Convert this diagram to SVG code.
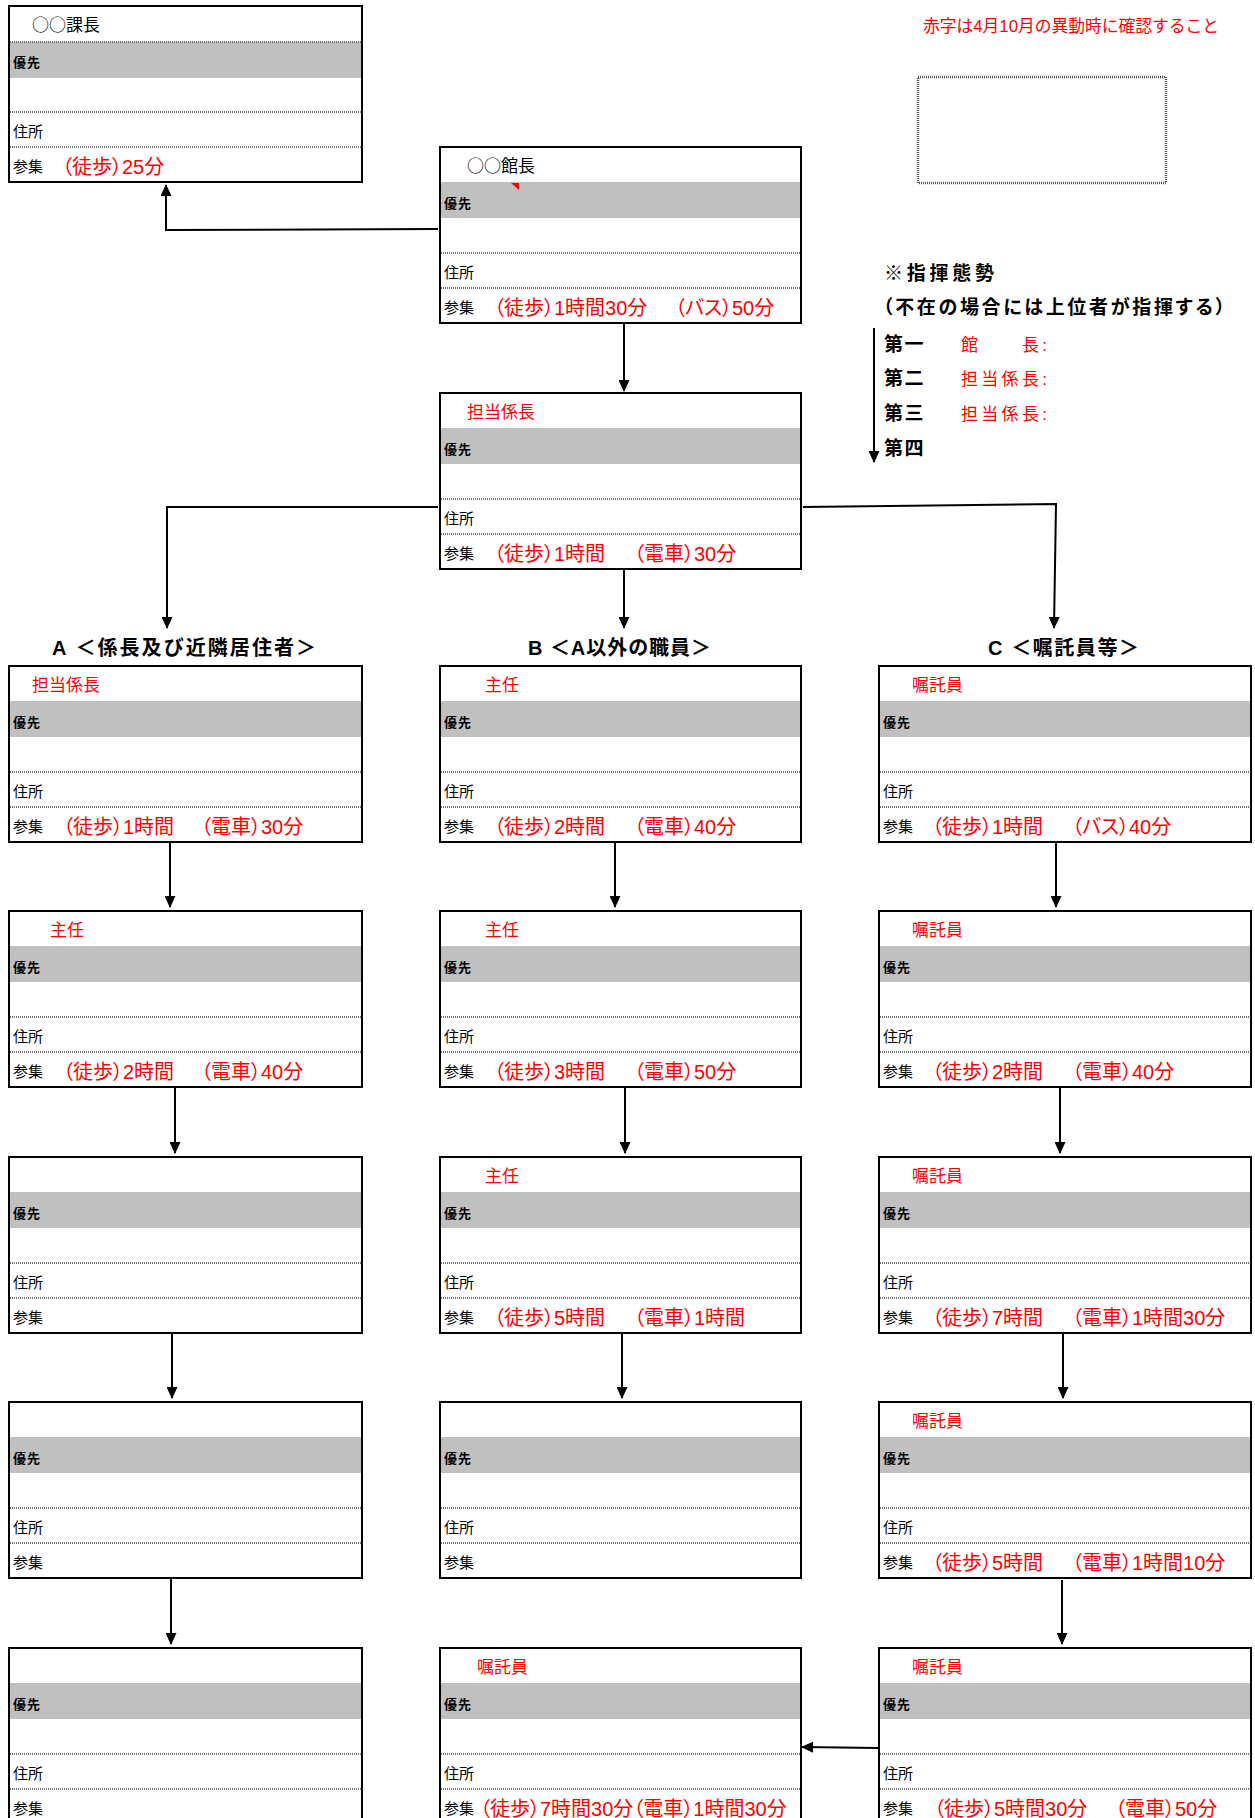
<svg xmlns="http://www.w3.org/2000/svg" width="1255" height="1818" viewBox="0 0 1255 1818">
<style>
text{font-family:"Liberation Sans","Noto Sans CJK JP",sans-serif;fill:#000}
.jp{font-family:"Noto Sans CJK JP",sans-serif}
.box{fill:#fff;stroke:#000;stroke-width:2}
.band{fill:#c0c0c0}
.dot{stroke:#444;stroke-width:1.5;stroke-dasharray:1 1}
.ttl{font-size:17px}
.pri{font-size:13px;font-weight:bold;letter-spacing:1px}
.lbl{font-size:15px}
.rt{font-size:20px;fill:#f00;font-feature-settings:"palt"}
.red{fill:#f00}
.hd{font-size:19px;font-weight:bold;font-feature-settings:"palt"}
.ch{font-size:20px;font-weight:bold}
.cmd{font-size:17px;letter-spacing:3.3px}
.cmdb{font-size:19px;font-weight:bold;letter-spacing:1.5px}
.conn{fill:none;stroke:#000;stroke-width:2}
</style>
<defs>
<marker id="ah" markerUnits="userSpaceOnUse" markerWidth="12" markerHeight="11" viewBox="0 0 12 11" refX="11" refY="5.5" orient="auto"><path d="M0,0 L12,5.5 L0,11 z" fill="#000"/></marker>
</defs>

<g id="note">
<text x="923" y="32" font-size="16.5" class="red" textLength="296" lengthAdjust="spacingAndGlyphs">赤字は4月10月の異動時に確認すること</text>
<rect x="918" y="77" width="248" height="106" fill="none" stroke="#555" stroke-width="2.5" stroke-dasharray="1 1"/>
</g>

<g id="command">
<text x="884" y="280" class="hd" textLength="110">※指揮態勢</text>
<text x="883" y="314" class="hd" textLength="342">（不在の場合には上位者が指揮する）</text>
<text x="884" y="351" class="cmdb">第一</text>
<text x="961" y="351" class="cmd red">館　　長:</text>
<text x="884" y="385" class="cmdb">第二</text>
<text x="961" y="385" class="cmd red">担当係長:</text>
<text x="884" y="420" class="cmdb">第三</text>
<text x="961" y="420" class="cmd red">担当係長:</text>
<text x="884" y="455" class="cmdb">第四</text>
</g>

<g id="headers">
<text x="52" y="655" class="ch" textLength="264">A ＜係長及び近隣居住者＞</text>
<text x="528" y="655" class="ch" textLength="183">B ＜A以外の職員＞</text>
<text x="988" y="655" class="ch" textLength="151">C ＜嘱託員等＞</text>
</g>

<g id="n-kacho">
<rect class="box" x="9" y="6" width="353" height="176"/>
<rect class="band" x="10" y="42" width="351" height="36"/>
<line class="dot" x1="10" y1="42" x2="361" y2="42"/>
<line class="dot" x1="10" y1="112" x2="361" y2="112"/>
<line class="dot" x1="10" y1="147" x2="361" y2="147"/>
<text x="32" y="31" class="ttl jp">○○課長</text>
<text x="13" y="67" class="pri">優先</text>
<text x="13" y="136.5" class="lbl">住所</text>
<text x="13" y="171.5" class="lbl">参集</text>
<text x="62" y="174" class="rt">（徒歩）25分</text>
</g>

<g id="n-kancho">
<rect class="box" x="440" y="147" width="361" height="176"/>
<rect class="band" x="441" y="182" width="359" height="36"/>
<line class="dot" x1="441" y1="253" x2="800" y2="253"/>
<line class="dot" x1="441" y1="288" x2="800" y2="288"/>
<polygon points="511,183 519,183 519,190" fill="#f00"/>
<text x="467" y="172" class="ttl jp">○○館長</text>
<text x="444" y="208" class="pri">優先</text>
<text x="444" y="277.5" class="lbl">住所</text>
<text x="444" y="312.5" class="lbl">参集</text>
<text y="315" class="rt"><tspan x="494">（徒歩）1時間30分</tspan><tspan x="675">（バス）50分</tspan></text>
</g>

<g id="n-kakari">
<rect class="box" x="440" y="393" width="361" height="176"/>
<rect class="band" x="441" y="428" width="359" height="36"/>
<line class="dot" x1="441" y1="499" x2="800" y2="499"/>
<line class="dot" x1="441" y1="534" x2="800" y2="534"/>
<text x="467" y="418" class="ttl red">担当係長</text>
<text x="444" y="454" class="pri">優先</text>
<text x="444" y="523.5" class="lbl">住所</text>
<text x="444" y="558.5" class="lbl">参集</text>
<text y="561" class="rt"><tspan x="494">（徒歩）1時間</tspan><tspan x="634">（電車）30分</tspan></text>
</g>

<!-- Column A -->
<g id="n-a1">
<rect class="box" x="9" y="666" width="353" height="176"/>
<rect class="band" x="10" y="701" width="351" height="36"/>
<line class="dot" x1="10" y1="772" x2="361" y2="772"/>
<line class="dot" x1="10" y1="807" x2="361" y2="807"/>
<text x="32" y="691" class="ttl red">担当係長</text>
<text x="13" y="727" class="pri">優先</text>
<text x="13" y="796.5" class="lbl">住所</text>
<text x="13" y="831.5" class="lbl">参集</text>
<text y="834" class="rt"><tspan x="63">（徒歩）1時間</tspan><tspan x="201">（電車）30分</tspan></text>
</g>
<g id="n-a2">
<rect class="box" x="9" y="911" width="353" height="176"/>
<rect class="band" x="10" y="946" width="351" height="36"/>
<line class="dot" x1="10" y1="1017" x2="361" y2="1017"/>
<line class="dot" x1="10" y1="1052" x2="361" y2="1052"/>
<text x="50" y="936" class="ttl red">主任</text>
<text x="13" y="972" class="pri">優先</text>
<text x="13" y="1041.5" class="lbl">住所</text>
<text x="13" y="1076.5" class="lbl">参集</text>
<text y="1079" class="rt"><tspan x="63">（徒歩）2時間</tspan><tspan x="201">（電車）40分</tspan></text>
</g>
<g id="n-a3">
<rect class="box" x="9" y="1157" width="353" height="176"/>
<rect class="band" x="10" y="1192" width="351" height="36"/>
<line class="dot" x1="10" y1="1263" x2="361" y2="1263"/>
<line class="dot" x1="10" y1="1298" x2="361" y2="1298"/>
<text x="13" y="1218" class="pri">優先</text>
<text x="13" y="1287.5" class="lbl">住所</text>
<text x="13" y="1322.5" class="lbl">参集</text>
</g>
<g id="n-a4">
<rect class="box" x="9" y="1402" width="353" height="176"/>
<rect class="band" x="10" y="1437" width="351" height="36"/>
<line class="dot" x1="10" y1="1508" x2="361" y2="1508"/>
<line class="dot" x1="10" y1="1543" x2="361" y2="1543"/>
<text x="13" y="1463" class="pri">優先</text>
<text x="13" y="1532.5" class="lbl">住所</text>
<text x="13" y="1567.5" class="lbl">参集</text>
</g>
<g id="n-a5">
<rect class="box" x="9" y="1648" width="353" height="176"/>
<rect class="band" x="10" y="1683" width="351" height="36"/>
<line class="dot" x1="10" y1="1754" x2="361" y2="1754"/>
<line class="dot" x1="10" y1="1789" x2="361" y2="1789"/>
<text x="13" y="1709" class="pri">優先</text>
<text x="13" y="1778.5" class="lbl">住所</text>
<text x="13" y="1813.5" class="lbl">参集</text>
</g>

<!-- Column B -->
<g id="n-b1">
<rect class="box" x="440" y="666" width="361" height="176"/>
<rect class="band" x="441" y="701" width="359" height="36"/>
<line class="dot" x1="441" y1="772" x2="800" y2="772"/>
<line class="dot" x1="441" y1="807" x2="800" y2="807"/>
<text x="485" y="691" class="ttl red">主任</text>
<text x="444" y="727" class="pri">優先</text>
<text x="444" y="796.5" class="lbl">住所</text>
<text x="444" y="831.5" class="lbl">参集</text>
<text y="834" class="rt"><tspan x="494">（徒歩）2時間</tspan><tspan x="634">（電車）40分</tspan></text>
</g>
<g id="n-b2">
<rect class="box" x="440" y="911" width="361" height="176"/>
<rect class="band" x="441" y="946" width="359" height="36"/>
<line class="dot" x1="441" y1="1017" x2="800" y2="1017"/>
<line class="dot" x1="441" y1="1052" x2="800" y2="1052"/>
<text x="485" y="936" class="ttl red">主任</text>
<text x="444" y="972" class="pri">優先</text>
<text x="444" y="1041.5" class="lbl">住所</text>
<text x="444" y="1076.5" class="lbl">参集</text>
<text y="1079" class="rt"><tspan x="494">（徒歩）3時間</tspan><tspan x="634">（電車）50分</tspan></text>
</g>
<g id="n-b3">
<rect class="box" x="440" y="1157" width="361" height="176"/>
<rect class="band" x="441" y="1192" width="359" height="36"/>
<line class="dot" x1="441" y1="1263" x2="800" y2="1263"/>
<line class="dot" x1="441" y1="1298" x2="800" y2="1298"/>
<text x="485" y="1182" class="ttl red">主任</text>
<text x="444" y="1218" class="pri">優先</text>
<text x="444" y="1287.5" class="lbl">住所</text>
<text x="444" y="1322.5" class="lbl">参集</text>
<text y="1325" class="rt"><tspan x="494">（徒歩）5時間</tspan><tspan x="634">（電車）1時間</tspan></text>
</g>
<g id="n-b4">
<rect class="box" x="440" y="1402" width="361" height="176"/>
<rect class="band" x="441" y="1437" width="359" height="36"/>
<line class="dot" x1="441" y1="1508" x2="800" y2="1508"/>
<line class="dot" x1="441" y1="1543" x2="800" y2="1543"/>
<text x="444" y="1463" class="pri">優先</text>
<text x="444" y="1532.5" class="lbl">住所</text>
<text x="444" y="1567.5" class="lbl">参集</text>
</g>
<g id="n-b5">
<rect class="box" x="440" y="1648" width="361" height="176"/>
<rect class="band" x="441" y="1683" width="359" height="36"/>
<line class="dot" x1="441" y1="1754" x2="800" y2="1754"/>
<line class="dot" x1="441" y1="1789" x2="800" y2="1789"/>
<text x="477" y="1673" class="ttl red">嘱託員</text>
<text x="444" y="1709" class="pri">優先</text>
<text x="444" y="1778.5" class="lbl">住所</text>
<text x="444" y="1813.5" class="lbl">参集</text>
<text x="480" y="1816" class="rt">（徒歩）7時間30分（電車）1時間30分</text>
</g>

<!-- Column C -->
<g id="n-c1">
<rect class="box" x="879" y="666" width="372" height="176"/>
<rect class="band" x="880" y="701" width="370" height="36"/>
<line class="dot" x1="880" y1="772" x2="1250" y2="772"/>
<line class="dot" x1="880" y1="807" x2="1250" y2="807"/>
<text x="912" y="691" class="ttl red">嘱託員</text>
<text x="883" y="727" class="pri">優先</text>
<text x="883" y="796.5" class="lbl">住所</text>
<text x="883" y="831.5" class="lbl">参集</text>
<text y="834" class="rt"><tspan x="932">（徒歩）1時間</tspan><tspan x="1072">（バス）40分</tspan></text>
</g>
<g id="n-c2">
<rect class="box" x="879" y="911" width="372" height="176"/>
<rect class="band" x="880" y="946" width="370" height="36"/>
<line class="dot" x1="880" y1="1017" x2="1250" y2="1017"/>
<line class="dot" x1="880" y1="1052" x2="1250" y2="1052"/>
<text x="912" y="936" class="ttl red">嘱託員</text>
<text x="883" y="972" class="pri">優先</text>
<text x="883" y="1041.5" class="lbl">住所</text>
<text x="883" y="1076.5" class="lbl">参集</text>
<text y="1079" class="rt"><tspan x="932">（徒歩）2時間</tspan><tspan x="1072">（電車）40分</tspan></text>
</g>
<g id="n-c3">
<rect class="box" x="879" y="1157" width="372" height="176"/>
<rect class="band" x="880" y="1192" width="370" height="36"/>
<line class="dot" x1="880" y1="1263" x2="1250" y2="1263"/>
<line class="dot" x1="880" y1="1298" x2="1250" y2="1298"/>
<text x="912" y="1182" class="ttl red">嘱託員</text>
<text x="883" y="1218" class="pri">優先</text>
<text x="883" y="1287.5" class="lbl">住所</text>
<text x="883" y="1322.5" class="lbl">参集</text>
<text y="1325" class="rt"><tspan x="932">（徒歩）7時間</tspan><tspan x="1072">（電車）1時間30分</tspan></text>
</g>
<g id="n-c4">
<rect class="box" x="879" y="1402" width="372" height="176"/>
<rect class="band" x="880" y="1437" width="370" height="36"/>
<line class="dot" x1="880" y1="1508" x2="1250" y2="1508"/>
<line class="dot" x1="880" y1="1543" x2="1250" y2="1543"/>
<text x="912" y="1427" class="ttl red">嘱託員</text>
<text x="883" y="1463" class="pri">優先</text>
<text x="883" y="1532.5" class="lbl">住所</text>
<text x="883" y="1567.5" class="lbl">参集</text>
<text y="1570" class="rt"><tspan x="932">（徒歩）5時間</tspan><tspan x="1072">（電車）1時間10分</tspan></text>
</g>
<g id="n-c5">
<rect class="box" x="879" y="1648" width="372" height="176"/>
<rect class="band" x="880" y="1683" width="370" height="36"/>
<line class="dot" x1="880" y1="1754" x2="1250" y2="1754"/>
<line class="dot" x1="880" y1="1789" x2="1250" y2="1789"/>
<text x="912" y="1673" class="ttl red">嘱託員</text>
<text x="883" y="1709" class="pri">優先</text>
<text x="883" y="1778.5" class="lbl">住所</text>
<text x="883" y="1813.5" class="lbl">参集</text>
<text y="1816" class="rt"><tspan x="934">（徒歩）5時間30分</tspan><tspan x="1115">（電車）50分</tspan></text>
</g>

<g id="connectors">
<polyline class="conn" points="438,229 166,230 166,185" marker-end="url(#ah)"/>
<polyline class="conn" points="624,323 624,391" marker-end="url(#ah)"/>
<polyline class="conn" points="438,507 167,507 167,628" marker-end="url(#ah)"/>
<polyline class="conn" points="803,507 1056,504 1054,628" marker-end="url(#ah)"/>
<polyline class="conn" points="624,569 624,628" marker-end="url(#ah)"/>
<polyline class="conn" points="170,843 170,907" marker-end="url(#ah)"/>
<polyline class="conn" points="175,1088 175,1153" marker-end="url(#ah)"/>
<polyline class="conn" points="172,1334 172,1398" marker-end="url(#ah)"/>
<polyline class="conn" points="171,1579 171,1644" marker-end="url(#ah)"/>
<polyline class="conn" points="615,841 615,907" marker-end="url(#ah)"/>
<polyline class="conn" points="625,1088 625,1153" marker-end="url(#ah)"/>
<polyline class="conn" points="622,1334 622,1398" marker-end="url(#ah)"/>
<polyline class="conn" points="1056,843 1056,907" marker-end="url(#ah)"/>
<polyline class="conn" points="1060,1088 1060,1153" marker-end="url(#ah)"/>
<polyline class="conn" points="1063,1334 1063,1398" marker-end="url(#ah)"/>
<polyline class="conn" points="1062,1580 1062,1644" marker-end="url(#ah)"/>
<polyline class="conn" points="878,1748 802,1747" marker-end="url(#ah)"/>
<polyline class="conn" points="874,328 874,462" marker-end="url(#ah)"/>
</g>
</svg>
